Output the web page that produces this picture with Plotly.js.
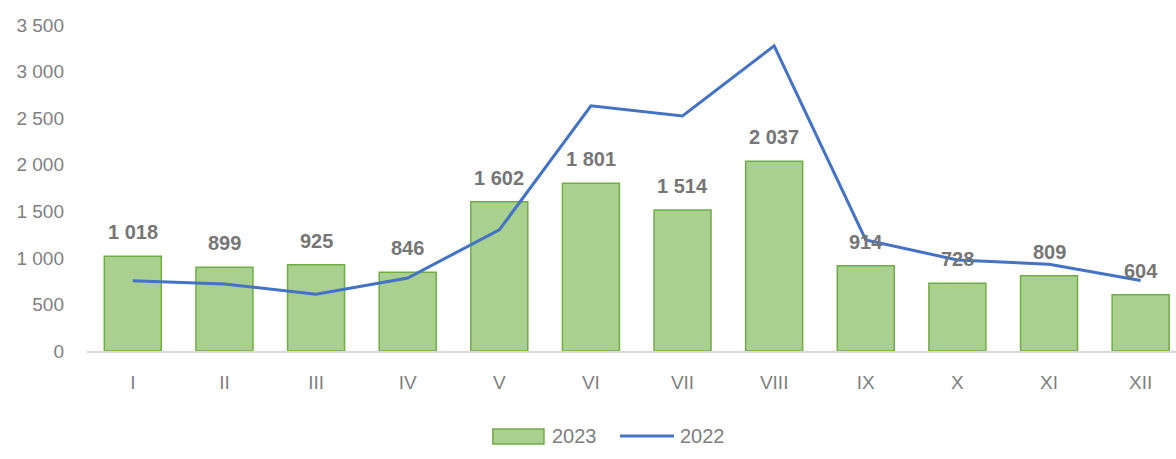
<!DOCTYPE html>
<html>
<head>
<meta charset="utf-8">
<script src="https://cdn.plot.ly/plotly-3.0.1.min.js"></script>
<style>html,body{margin:0;padding:0;background:#fff;}#chart{width:1176px;height:459px;}</style>
</head>
<body>
<div id="chart"></div>
<script>
const months = ['I','II','III','IV','V','VI','VII','VIII','IX','X','XI','XII'];
const values2023 = [1018, 899, 925, 846, 1602, 1801, 1514, 2037, 914, 728, 809, 604];
const values2022 = [755, 720, 609, 784, 1300, 2632, 2524, 3276, 1192, 977, 931, 757];
const yTicks = [0, 500, 1000, 1500, 2000, 2500, 3000, 3500];
const seriesNames = ['2023', '2022'];

function fmt(n) { return String(n).replace(/\B(?=(\d{3})+(?!\d))/g, ' '); }

const fontFam = '"Liberation Sans", Arial, sans-serif';
const barFill = '#a9d08e', barLine = '#70ad47', lineColor = '#4472c4';

const bars = {
  type: 'bar', name: seriesNames[0], x: months, y: values2023,
  width: 0.622,
  marker: { color: barFill, line: { color: barLine, width: 1.5 } }
};
const line = {
  type: 'scatter', mode: 'lines', name: seriesNames[1], x: months, y: values2022,
  line: { color: lineColor, width: 3 }
};

const annotations = months.map((m, i) => ({
  x: m, y: values2023[i], xref: 'x', yref: 'y',
  text: '<b>' + fmt(values2023[i]) + '</b>',
  showarrow: false, yanchor: 'bottom', yshift: 11,
  font: { family: fontFam, size: 20, color: '#767676' }
}));

// custom legend (layout decoration)
annotations.push(
  { xref: 'paper', yref: 'paper', x: 0.4250, y: -0.2607, xanchor: 'left', yanchor: 'middle',
    text: seriesNames[0], showarrow: false, font: { family: fontFam, size: 20, color: '#7f7f7f' } },
  { xref: 'paper', yref: 'paper', x: 0.5426, y: -0.2607, xanchor: 'left', yanchor: 'middle',
    text: seriesNames[1], showarrow: false, font: { family: fontFam, size: 20, color: '#7f7f7f' } }
);
const shapes = [
  { type: 'rect', xref: 'paper', yref: 'paper', x0: 0.3727, x1: 0.4196, y0: -0.2853, y1: -0.2393,
    fillcolor: barFill, line: { color: barLine, width: 1.5 } },
  { type: 'line', xref: 'paper', yref: 'paper', x0: 0.4894, x1: 0.5390, y0: -0.2607, y1: -0.2607,
    line: { color: lineColor, width: 3 } }
];

const layout = {
  width: 1176, height: 459,
  margin: { l: 87, r: 0, t: 25, b: 108 },
  paper_bgcolor: '#ffffff', plot_bgcolor: '#ffffff',
  separators: ', ',
  showlegend: false,
  xaxis: {
    type: 'category', range: [-0.5, 11.386],
    showgrid: false, zeroline: false,
    showline: true, linecolor: '#d9d9d9', linewidth: 2,
    ticks: '', ticklabelstandoff: 13,
    tickfont: { family: fontFam, size: 19, color: '#7f7f7f' }
  },
  yaxis: {
    range: [0, 3500], tickvals: yTicks, tickformat: ',d',
    showgrid: false, zeroline: false, showline: false,
    ticks: '', ticklabelstandoff: 22,
    tickfont: { family: fontFam, size: 19, color: '#7f7f7f' }
  },
  annotations: annotations,
  shapes: shapes
};

Plotly.newPlot('chart', [bars, line], layout, { displayModeBar: false, staticPlot: true });
</script>
</body>
</html>
